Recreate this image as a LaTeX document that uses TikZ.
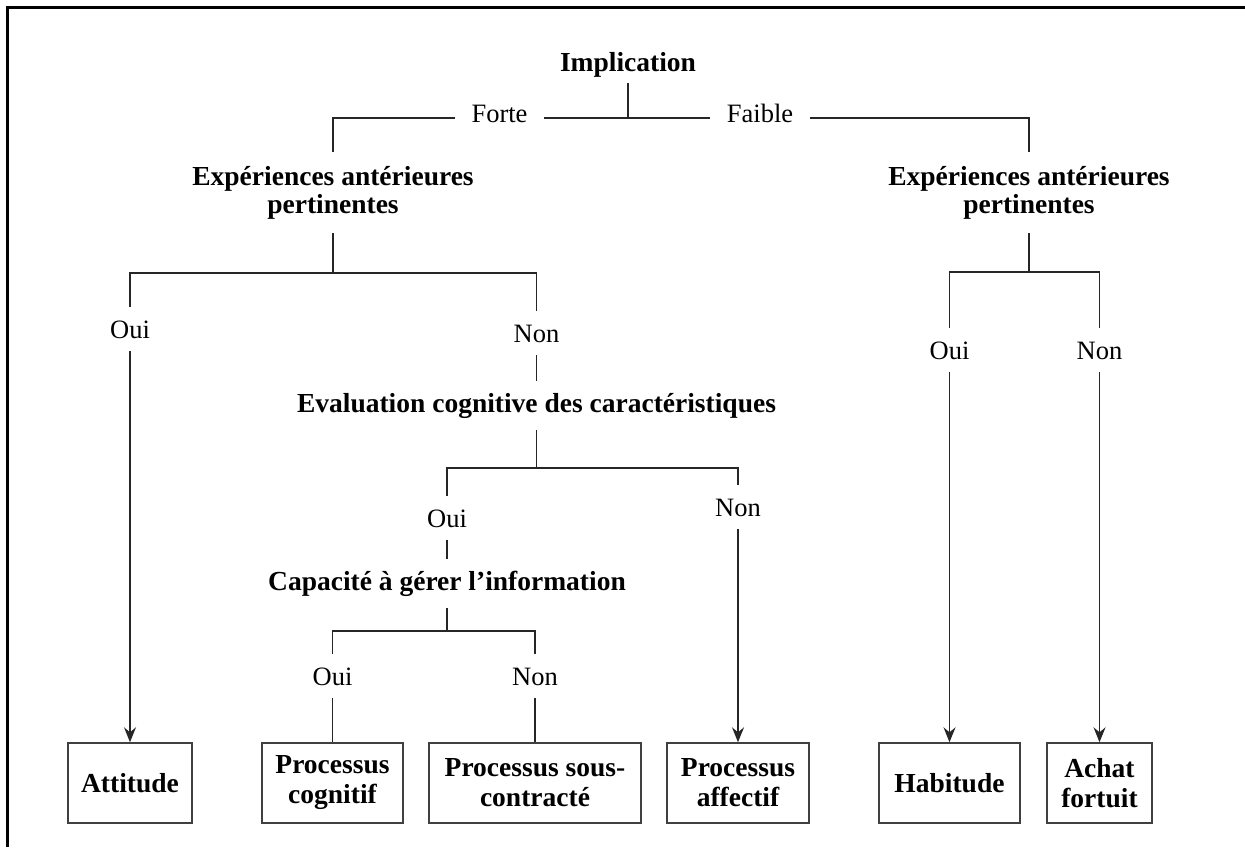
\documentclass[tikz,border=0pt]{standalone}
\usepackage{fontspec}
\setmainfont{Liberation Serif}
\usetikzlibrary{arrows.meta,backgrounds}
\begin{document}
\begin{tikzpicture}[x=1pt,y=-1pt,
  hdr/.style={font=\bfseries\fontsize{27.5}{28}\selectfont, align=center, fill=white, inner xsep=4pt},
  hdrone/.style={font=\bfseries\fontsize{27.5}{28}\selectfont, fill=white, inner xsep=4pt, text height=19pt, text depth=6pt, inner ysep=12pt, anchor=base},
  lbl/.style={font=\fontsize{26.5}{28}\selectfont, fill=white, text height=19pt, text depth=0pt, minimum height=44pt, inner ysep=0pt, inner xsep=16.5pt},
  box/.style={draw=black!75, line width=1.4pt, font=\bfseries\fontsize{27.5}{30}\selectfont, align=center, minimum height=80pt, inner sep=0pt},
  conn/.style={draw=black!85, line width=1.3pt},
  arr/.style={conn, -{Stealth[length=15pt,width=12pt,inset=5pt]}}
]
\useasboundingbox (0,0) rectangle (1245,847);
\draw[line width=3pt] (7.5,847) -- (7.5,7.5) -- (1245,7.5);

% headers and labels
\node[hdrone, inner ysep=6pt] (imp) at (628,71) {Implication};
\node[lbl] (forte) at (499.5,112.5) {Forte};
\node[lbl] (faible) at (760,112.5) {Faible};
\node[hdr, minimum height=81pt, inner ysep=0pt] (expL) at (333,192.5) {Expériences antérieures\\pertinentes};
\node[hdr, minimum height=81pt, inner ysep=0pt] (expR) at (1029,192.5) {Expériences antérieures\\pertinentes};
\node[lbl] (oui1) at (130,328.5) {Oui};
\node[lbl] (non1) at (536.5,332.5) {Non};
\node[hdrone] (eval) at (536.5,412) {Evaluation cognitive des caractéristiques};
\node[lbl] (oui2) at (447,517.5) {Oui};
\node[lbl] (non2) at (738,506.5) {Non};
\node[hdrone] (capa) at (447,590) {Capacité à gérer l’information};
\node[lbl] (oui3) at (332.5,676) {Oui};
\node[lbl] (non3) at (535,676) {Non};
\node[lbl] (oui4) at (949.5,350) {Oui};
\node[lbl] (non4) at (1099.5,349.5) {Non};

% boxes
\node[box, minimum width=124pt] (attitude) at (130,783) {Attitude};
\node[box, minimum width=141pt] (pcog) at (332.5,783) {Processus\\cognitif};
\node[box, minimum width=212pt] (psous) at (535,783) {Processus sous-\\contracté};
\node[box, minimum width=142pt] (paff) at (738,783) {Processus\\affectif};
\node[box, minimum width=141pt] (habit) at (949.5,783) {Habitude};
\node[box, minimum width=105pt] (achat) at (1099.5,783) {Achat\\fortuit};

\coordinate (j0) at (628,118);
\coordinate (j1) at (333,273);
\coordinate (j2) at (536.5,468);
\coordinate (j3) at (447,631);
\coordinate (j4) at (1029,272);

\begin{pgfonlayer}{background}
\draw[conn] (imp) -- (j0);
\draw[conn] (expL) |- (j0) -| (expR);
\draw[conn] (expL) -- (j1);
\draw[arr] (j1) -| (attitude);
\draw[conn] (j1) -| (eval);
\draw[conn] (eval) -- (j2);
\draw[conn] (j2) -| (capa);
\draw[arr] (j2) -| (paff);
\draw[conn] (capa) -- (j3);
\draw[conn] (j3) -| (pcog);
\draw[conn] (j3) -| (psous);
\draw[conn] (expR) -- (j4);
\draw[arr] (j4) -| (habit);
\draw[arr] (j4) -| (achat);
\end{pgfonlayer}
\end{tikzpicture}
\end{document}
